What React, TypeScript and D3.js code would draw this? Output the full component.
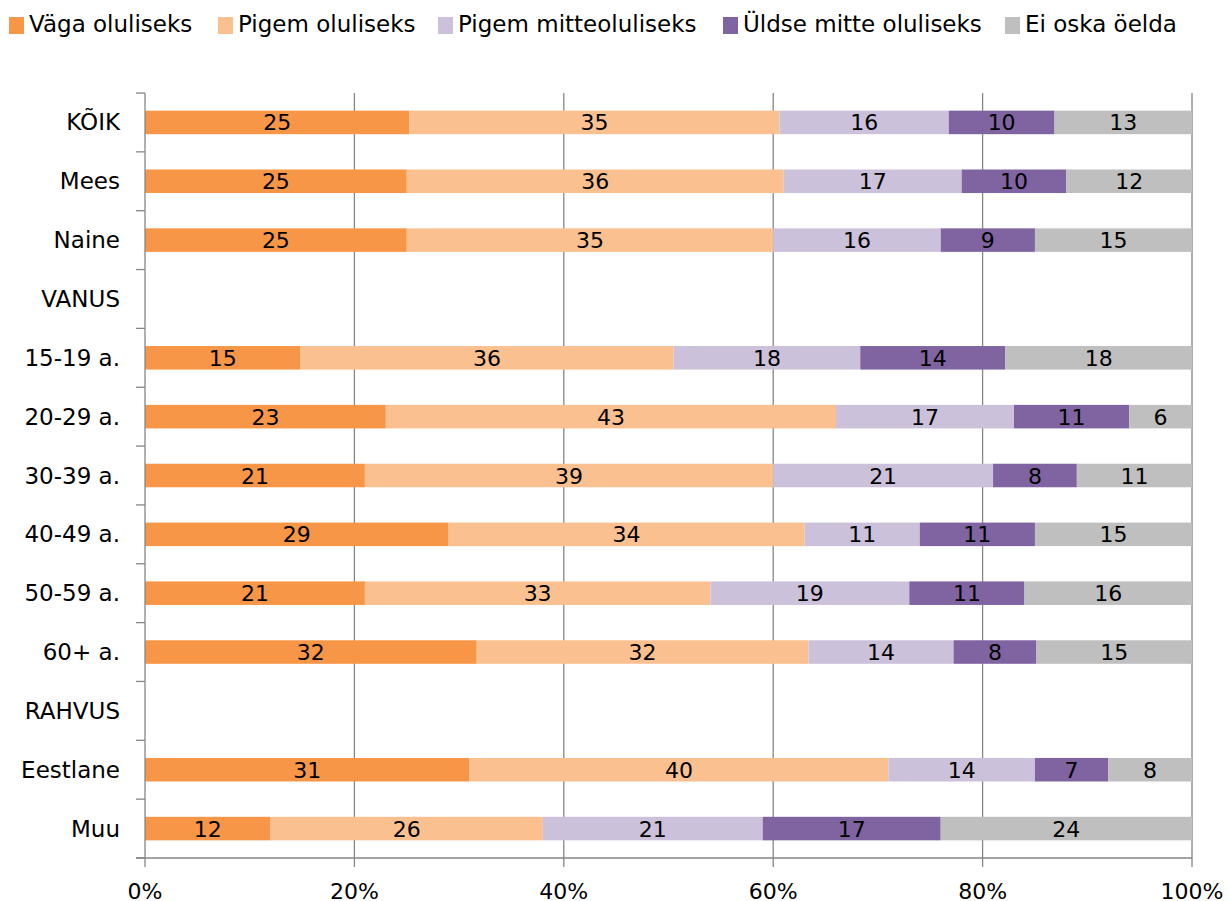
import React from "react";
import * as d3 from "d3";

const categories = ["KÕIK", "Mees", "Naine", "VANUS", "15-19 a.", "20-29 a.", "30-39 a.", "40-49 a.", "50-59 a.", "60+ a.", "RAHVUS", "Eestlane", "Muu"];
const seriesNames = ["Väga oluliseks", "Pigem oluliseks", "Pigem mitteoluliseks", "Üldse mitte oluliseks", "Ei oska öelda"];
const seriesColors = ["#F79646", "#FAC090", "#CCC1DA", "#8064A2", "#BFBFBF"];
const vaga = [25, 25, 25, null, 15, 23, 21, 29, 21, 32, null, 31, 12];
const pigem = [35, 36, 35, null, 36, 43, 39, 34, 33, 32, null, 40, 26];
const pigemMitte = [16, 17, 16, null, 18, 17, 21, 11, 19, 14, null, 14, 21];
const uldseMitte = [10, 10, 9, null, 14, 11, 8, 11, 11, 8, null, 7, 17];
const eiOska = [13, 12, 15, null, 18, 6, 11, 15, 16, 15, null, 8, 24];
const xTicks = [0, 0.2, 0.4, 0.6, 0.8, 1];
const legendX = [9, 218, 438, 723, 1005];

const W = 1229, H = 901;
const left = 145, right = 1192, top = 93, bottom = 858;
const FONT = "DejaVu Sans, Verdana, sans-serif";

export default function App() {
  const series = [vaga, pigem, pigemMitte, uldseMitte, eiOska];
  const x = d3.scaleLinear().domain([0, 1]).range([left, right]);
  const y = d3.scaleBand().domain(categories).range([top, bottom]).paddingInner(0.6).paddingOuter(0.3);
  const yb = d3.scaleBand().domain(categories).range([top, bottom]);

  const rows = categories.map((c, i) => {
    const obj: any = { cat: c };
    seriesNames.forEach((s, j) => (obj[s] = series[j][i] ?? 0));
    return obj;
  });
  const stacked = d3.stack<any>().keys(seriesNames).offset(d3.stackOffsetExpand)(rows);

  const tickYs = d3.range(categories.length + 1).map((i) => top + i * yb.step());

  return (
    <svg width={W} height={H} style={{ position: "absolute", left: 0, top: 0, background: "#fff" }} fontFamily={FONT}>
      {/* legend */}
      {seriesNames.map((s, j) => (
        <g key={s}>
          <rect x={legendX[j]} y={17} width={15} height={17} fill={seriesColors[j]} />
          <text x={legendX[j] + 20} y={32} fontSize={23} fill="#000">{s}</text>
        </g>
      ))}
      {/* gridlines */}
      {xTicks.slice(1).map((t) => (
        <line key={t} x1={x(t)} x2={x(t)} y1={top} y2={bottom} stroke="#868686" strokeWidth={1.3} />
      ))}
      {/* bars */}
      {stacked.map((layer, j) => (
        <g key={j}>
          {layer.map((d, i) => {
            const v = series[j][i];
            if (v == null || isNaN(d[1] - d[0])) return null;
            const x0 = x(d[0]), x1 = x(d[1]);
            return (
              <g key={i}>
                <rect x={x0} y={y(categories[i])!} width={x1 - x0} height={y.bandwidth()} fill={seriesColors[j]} />
                <text x={(x0 + x1) / 2} y={y(categories[i])! + y.bandwidth() / 2 + 8} textAnchor="middle" fontSize={22} fill="#000">{v}</text>
              </g>
            );
          })}
        </g>
      ))}
      {/* axes */}
      <line x1={left} x2={left} y1={top} y2={bottom} stroke="#868686" strokeWidth={1.3} />
      {tickYs.map((ty, i) => (
        <line key={i} x1={left - 9} x2={left} y1={ty} y2={ty} stroke="#868686" strokeWidth={1.3} />
      ))}
      <line x1={left - 9} x2={right} y1={bottom} y2={bottom} stroke="#868686" strokeWidth={1.3} />
      {xTicks.map((t) => (
        <g key={t}>
          <line x1={x(t)} x2={x(t)} y1={bottom} y2={bottom + 9} stroke="#868686" strokeWidth={1.3} />
          <text x={x(t)} y={899} textAnchor="middle" fontSize={22} fill="#000">{d3.format(".0%")(t)}</text>
        </g>
      ))}
      {categories.map((c) => (
        <text key={c} x={120} y={yb(c)! + yb.bandwidth() / 2 + 8} textAnchor="end" fontSize={23} fill="#000">{c}</text>
      ))}
    </svg>
  );
}
